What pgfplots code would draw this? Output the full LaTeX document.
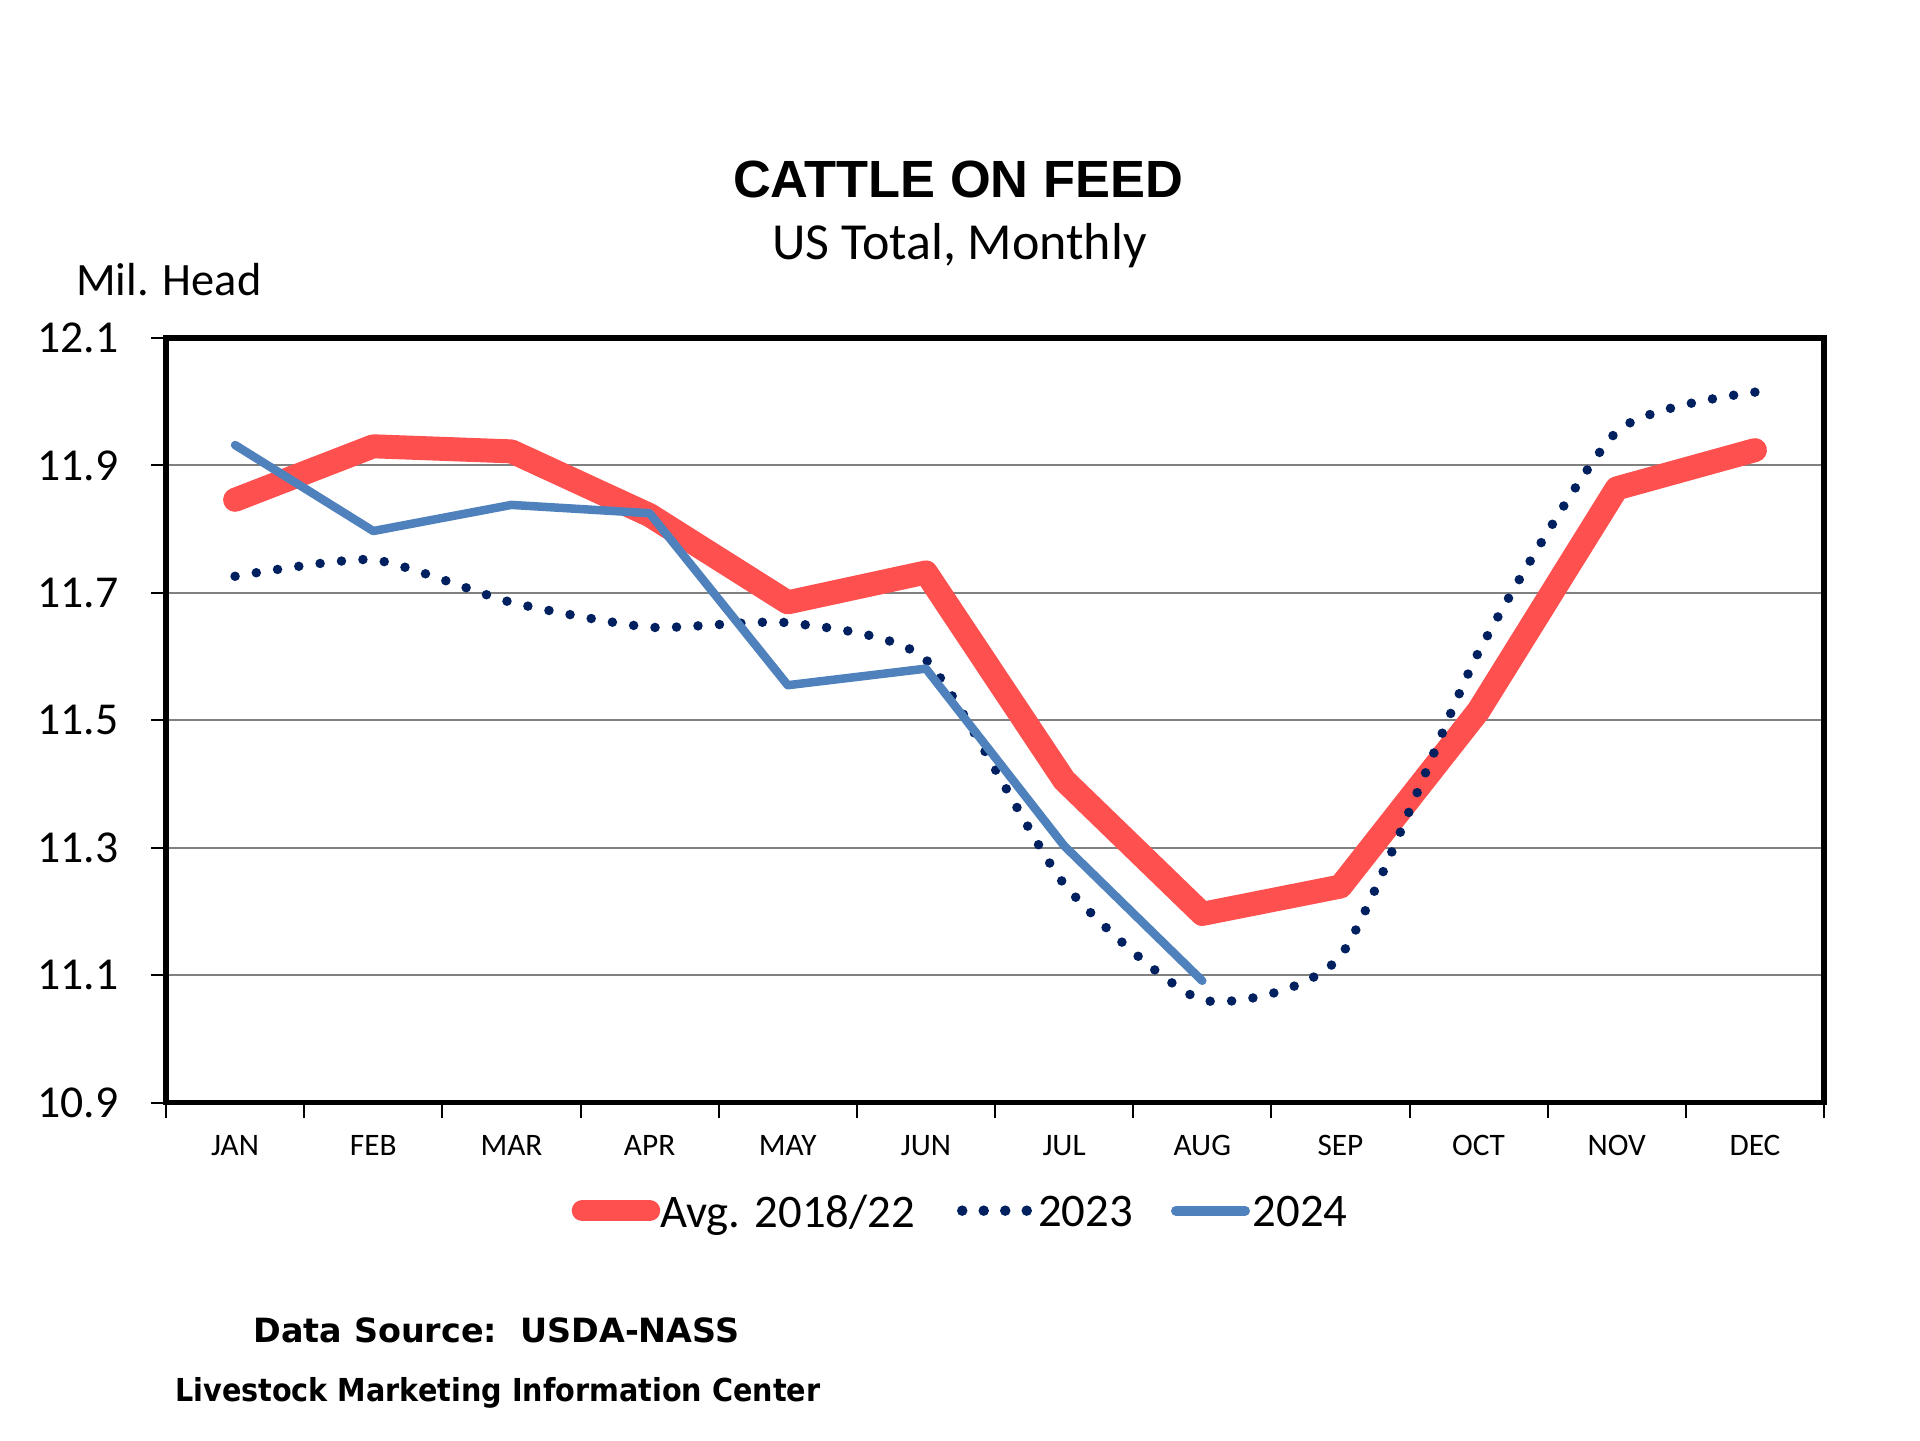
\documentclass[border=0pt]{standalone}
\usepackage{fontspec}
\setmainfont{Carlito}
\newfontfamily\arialfont{Liberation Sans}
\newfontfamily\srcfont{DejaVu Sans}
\newfontfamily\srcfontn[FakeStretch=0.906]{DejaVu Sans}
\usepackage{pgfplots}
\pgfplotsset{compat=1.18}
\definecolor{avgred}{RGB}{255,80,80}
\definecolor{navy}{RGB}{0,32,96}
\definecolor{blue24}{RGB}{79,129,189}
\definecolor{gridgray}{RGB}{128,128,128}
\pgfplotsset{
  redleg/.style={legend image code/.code={\path[draw=none,fill=none] (0,-1.3mm) rectangle (8.83mm,1.3mm);
    \draw[##1, line width=2.1mm] (1.05mm,0.3mm) -- (7.8mm,0.3mm);}},
  dotleg/.style={legend image code/.code={\path[draw=none,fill=none] (0,-1.3mm) rectangle (8.1mm,1.3mm);
    \draw[##1, line width=1.05mm] (0.5mm,0.3mm) -- (7.1mm,0.3mm);}},
  blueleg/.style={legend image code/.code={\path[draw=none,fill=none] (0,-1.3mm) rectangle (8.17mm,1.3mm);
    \draw[##1, line width=1.0mm] (0.5mm,0.3mm) -- (7.4mm,0.3mm);}},
}
\begin{document}
\begin{tikzpicture}
\path[fill=white] (0,0) rectangle (192mm,144mm);
\begin{axis}[
  at={(16.6mm,33.75mm)}, anchor=south west,
  scale only axis, width=165.8mm, height=76.45mm,
  xmin=0.5, xmax=12.5, ymin=10.9, ymax=12.1,
  axis line style={line width=0.55mm, black},
  xtick={0.5,1.5,...,12.5}, xticklabels={},
  extra x ticks={1,2,...,12},
  extra x tick labels={JAN,FEB,MAR,APR,MAY,JUN,JUL,AUG,SEP,OCT,NOV,DEC},
  extra x tick style={major tick length=0pt, grid=none},
  ytick={10.9,11.1,11.3,11.5,11.7,11.9,12.1},
  yticklabels={10.9,11.1,11.3,11.5,11.7,11.9,12.1},
  tick pos=left,
  tick align=outside,
  major tick length=1.5mm,
  tick style={black, line width=0.2mm},
  ymajorgrids, grid style={gridgray, line width=0.2mm},
  xticklabel style={font=\fontsize{8.9}{10}\selectfont, anchor=base, yshift=-5.25mm},
  yticklabel style={font=\fontsize{13}{15}\selectfont, anchor=east, inner sep=0pt, xshift=-3.2mm},
  legend columns=3,
  legend style={draw=none, fill=none, inner sep=0pt, at={(0.2443,-0.1454)}, anchor=west,
    font=\fontsize{13.3}{15}\selectfont, nodes={inner sep=0pt}},
]
\addplot[avgred, line width=2.4mm, line cap=round, line join=round, redleg]
  coordinates {(1,11.846)(2,11.930)(3,11.922)(4,11.822)(5,11.685)(6,11.732)
               (7,11.406)(8,11.196)(9,11.239)(10,11.515)(11,11.864)(12,11.924)};
\addlegendentry{Avg. 2018/22\hspace{4.2mm}\mbox{}}
\addplot[navy, line width=0.95mm, line cap=round, dash pattern=on 0pt off 2.15mm, smooth, tension=0.36, dotleg]
  coordinates {(1,11.726)(2,11.752)(3,11.685)(4,11.646)(5,11.653)(6,11.595)
               (7,11.243)(8,11.061)(9,11.130)(10,11.607)(11,11.953)(12,12.015)};
\addlegendentry{2023\hspace{3.8mm}\mbox{}}
\addplot[blue24, line width=0.85mm, line cap=round, line join=round, blueleg]
  coordinates {(1,11.932)(2,11.797)(3,11.838)(4,11.825)(5,11.555)(6,11.581)
               (7,11.303)(8,11.091)};
\addlegendentry{2024}
\end{axis}
\node[anchor=base, inner sep=0pt, font=\arialfont\bfseries\fontsize{14.9}{18}\selectfont] at (95.8mm,124.2mm) {CATTLE ON FEED};
\node[anchor=base, inner sep=0pt, font=\fontsize{14.8}{18}\selectfont] at (95.95mm,118.05mm) {US Total, Monthly};
\node[anchor=base west, inner sep=0pt, font=\fontsize{13.2}{15}\selectfont] at (7.55mm,114.4mm) {Mil. Head};
\node[anchor=base west, inner sep=0pt, font=\srcfont\bfseries\fontsize{9.5}{11}\selectfont] at (25.3mm,9.8mm) {Data Source:\ \ USDA-NASS};
\node[anchor=base west, inner sep=0pt, font=\srcfontn\bfseries\fontsize{9}{11}\selectfont] at (17.46mm,3.83mm) {Livestock Marketing Information Center};
\end{tikzpicture}
\end{document}
